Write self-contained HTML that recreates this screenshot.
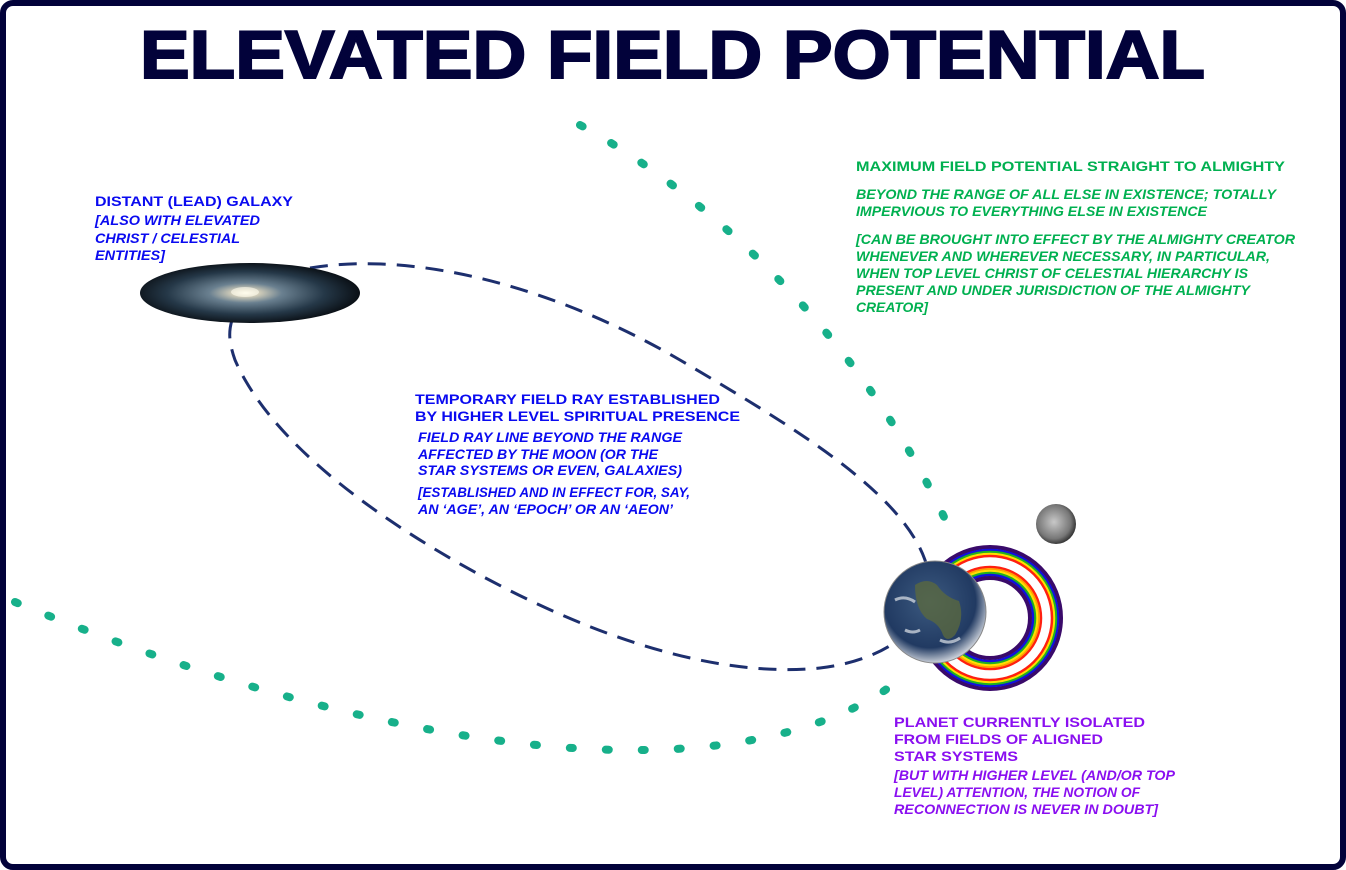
<!DOCTYPE html>
<html><head><meta charset="utf-8"><style>
html,body{margin:0;padding:0;background:#fff;width:1346px;height:870px;overflow:hidden}
svg{display:block}
text{font-family:"Liberation Sans",Arial,sans-serif;font-weight:bold}
.it{font-style:italic}
.g{fill:#00b050}.b{fill:#0a0af0}.p{fill:#8a0ff0}
</style></head><body>
<svg width="1346" height="870" viewBox="0 0 1346 870" xmlns="http://www.w3.org/2000/svg">
<defs>
<radialGradient id="gal" cx="0.48" cy="0.5" r="0.55">
<stop offset="0" stop-color="#fffbe8"/><stop offset="0.1" stop-color="#d8d2bc"/>
<stop offset="0.3" stop-color="#6a8090"/><stop offset="0.65" stop-color="#253848"/><stop offset="1" stop-color="#05080c"/>
</radialGradient>
<radialGradient id="earth" cx="0.45" cy="0.4" r="0.6">
<stop offset="0" stop-color="#3c5a80"/><stop offset="0.75" stop-color="#213a62"/><stop offset="1" stop-color="#c8ced8"/>
</radialGradient>
<radialGradient id="moon" cx="0.45" cy="0.45" r="0.6">
<stop offset="0" stop-color="#c8c8c8"/><stop offset="0.7" stop-color="#777"/><stop offset="1" stop-color="#222"/>
</radialGradient>
</defs>
<rect x="3" y="3" width="1340" height="864" rx="10" fill="#fff" stroke="#02023a" stroke-width="6"/>
<text x="140" y="78" font-size="68" fill="#02023a" stroke="#02023a" stroke-width="2" textLength="1065" lengthAdjust="spacingAndGlyphs">ELEVATED FIELD POTENTIAL</text>

<path d="M580,125 C700,190 860,330 950,530" fill="none" stroke="#17b08a" stroke-width="8" stroke-linecap="round" stroke-dasharray="3 33"/>
<path d="M15,602 C250,700 520,770 720,745 C800,735 860,710 895,683" fill="none" stroke="#17b08a" stroke-width="8" stroke-linecap="round" stroke-dasharray="3 33"/>

<path d="M310,268 C420,250 560,290 680,360 C790,425 900,490 925,560 C945,620 890,660 820,668 C720,678 600,640 480,575 C370,515 270,440 235,360 C228,340 229,330 232,320" fill="none" stroke="#1d2f6e" stroke-width="3" stroke-dasharray="18 11"/>

<ellipse cx="250" cy="293" rx="110" ry="30" fill="url(#gal)"/>
<ellipse cx="245" cy="292" rx="14" ry="5" fill="#fffef0" opacity="0.6"/>

<g fill="none">
<circle cx="990" cy="618" r="71" stroke="#3a0a6a" stroke-width="4"/>
<circle cx="990" cy="618" r="68" stroke="#1010e0" stroke-width="2.5"/>
<circle cx="990" cy="618" r="66" stroke="#20b020" stroke-width="2.5"/>
<circle cx="990" cy="618" r="64" stroke="#ffe000" stroke-width="2.5"/>
<circle cx="990" cy="618" r="62" stroke="#ff2010" stroke-width="2.5"/>
<circle cx="990" cy="618" r="51" stroke="#ff2010" stroke-width="2.5"/>
<circle cx="990" cy="618" r="49" stroke="#ffa000" stroke-width="2"/>
<circle cx="990" cy="618" r="47" stroke="#ffe000" stroke-width="2.5"/>
<circle cx="990" cy="618" r="45" stroke="#20b020" stroke-width="2.5"/>
<circle cx="990" cy="618" r="43" stroke="#1010e0" stroke-width="2.5"/>
<circle cx="990" cy="618" r="40" stroke="#3a0a6a" stroke-width="4"/>
</g>
<circle cx="935" cy="612" r="51" fill="url(#earth)" stroke="#888" stroke-width="1"/>
<path d="M915,585 q12,-8 22,0 q8,12 22,16 q6,18 -4,34 q-8,8 -12,0 q-4,-12 -16,-16 q-12,-10 -12,-34z" fill="#5c6a3c" opacity="0.75"/>
<path d="M895,600 q10,-5 20,2 M940,640 q10,5 20,-2 M905,630 q8,4 15,0" stroke="#dfe4ea" stroke-width="3" fill="none" opacity="0.7"/>
<circle cx="1056" cy="524" r="20" fill="url(#moon)"/>

<text class="g" x="856" y="171" font-size="14" textLength="429" lengthAdjust="spacingAndGlyphs">MAXIMUM FIELD POTENTIAL STRAIGHT TO ALMIGHTY</text>
<g class="g it" font-size="14">
<text x="856" y="199" textLength="420" lengthAdjust="spacingAndGlyphs">BEYOND THE RANGE OF ALL ELSE IN EXISTENCE; TOTALLY</text>
<text x="856" y="216" textLength="351" lengthAdjust="spacingAndGlyphs">IMPERVIOUS TO EVERYTHING ELSE IN EXISTENCE</text>
<text x="856" y="244" textLength="439" lengthAdjust="spacingAndGlyphs">[CAN BE BROUGHT INTO EFFECT BY THE ALMIGHTY CREATOR</text>
<text x="856" y="261" textLength="414" lengthAdjust="spacingAndGlyphs">WHENEVER AND WHEREVER NECESSARY, IN PARTICULAR,</text>
<text x="856" y="278" textLength="392" lengthAdjust="spacingAndGlyphs">WHEN TOP LEVEL CHRIST OF CELESTIAL HIERARCHY IS</text>
<text x="856" y="295" textLength="394" lengthAdjust="spacingAndGlyphs">PRESENT AND UNDER JURISDICTION OF THE ALMIGHTY</text>
<text x="856" y="312" textLength="72" lengthAdjust="spacingAndGlyphs">CREATOR]</text>
</g>

<text class="b" x="95" y="206" font-size="14" textLength="198" lengthAdjust="spacingAndGlyphs">DISTANT (LEAD) GALAXY</text>
<g class="b it" font-size="14">
<text x="95" y="225" textLength="165" lengthAdjust="spacingAndGlyphs">[ALSO WITH ELEVATED</text>
<text x="95" y="243" textLength="145" lengthAdjust="spacingAndGlyphs">CHRIST / CELESTIAL</text>
<text x="95" y="260" textLength="70" lengthAdjust="spacingAndGlyphs">ENTITIES]</text>
</g>

<text class="b" x="415" y="404" font-size="14" textLength="305" lengthAdjust="spacingAndGlyphs">TEMPORARY FIELD RAY ESTABLISHED</text>
<text class="b" x="415" y="421" font-size="14" textLength="325" lengthAdjust="spacingAndGlyphs">BY HIGHER LEVEL SPIRITUAL PRESENCE</text>
<g class="b it" font-size="14">
<text x="418" y="442" textLength="264" lengthAdjust="spacingAndGlyphs">FIELD RAY LINE BEYOND THE RANGE</text>
<text x="418" y="459" textLength="240" lengthAdjust="spacingAndGlyphs">AFFECTED BY THE MOON (OR THE</text>
<text x="418" y="475" textLength="264" lengthAdjust="spacingAndGlyphs">STAR SYSTEMS OR EVEN, GALAXIES)</text>
<text x="418" y="497" textLength="272" lengthAdjust="spacingAndGlyphs">[ESTABLISHED AND IN EFFECT FOR, SAY,</text>
<text x="418" y="514" textLength="255" lengthAdjust="spacingAndGlyphs">AN ‘AGE’, AN ‘EPOCH’ OR AN ‘AEON’</text>
</g>

<g class="p" font-size="14">
<text x="894" y="727" textLength="251" lengthAdjust="spacingAndGlyphs">PLANET CURRENTLY ISOLATED</text>
<text x="894" y="744" textLength="209" lengthAdjust="spacingAndGlyphs">FROM FIELDS OF ALIGNED</text>
<text x="894" y="761" textLength="124" lengthAdjust="spacingAndGlyphs">STAR SYSTEMS</text>
</g>
<g class="p it" font-size="14">
<text x="894" y="780" textLength="281" lengthAdjust="spacingAndGlyphs">[BUT WITH HIGHER LEVEL (AND/OR TOP</text>
<text x="894" y="797" textLength="246" lengthAdjust="spacingAndGlyphs">LEVEL) ATTENTION, THE NOTION OF</text>
<text x="894" y="814" textLength="264" lengthAdjust="spacingAndGlyphs">RECONNECTION IS NEVER IN DOUBT]</text>
</g>
</svg>
</body></html>
